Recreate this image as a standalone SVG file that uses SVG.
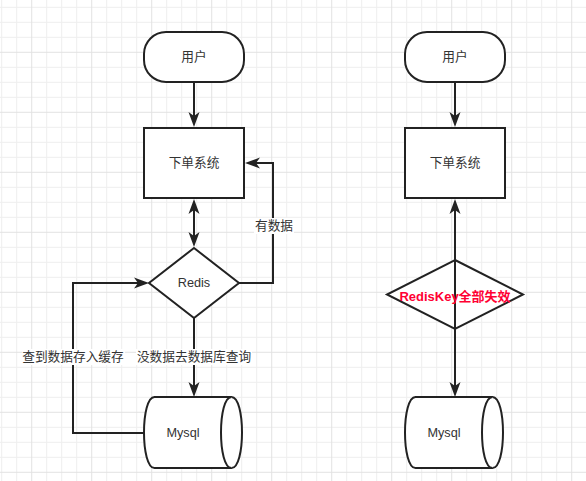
<svg xmlns="http://www.w3.org/2000/svg" width="586" height="481" viewBox="0 0 586 481">
<style>
.shape{fill:#ffffff;stroke:#222222;stroke-width:2}
.lbl{font-family:"Liberation Sans","Noto Sans CJK SC",sans-serif;font-size:12.7px;fill:#333333;text-anchor:middle;dominant-baseline:central}
.red{font-family:"Liberation Sans","Noto Sans CJK SC",sans-serif;font-size:13px;font-weight:bold;fill:#ff0033;text-anchor:middle;dominant-baseline:central}
.edge{fill:none;stroke:#222222;stroke-width:2}
.bg{fill:#ffffff}
</style>
<defs>
<pattern id="grid" patternUnits="userSpaceOnUse" x="31.2" y="51.8" width="60" height="60">
<rect x="15" y="0" width="1" height="60" fill="#eeeeee"/>
<rect x="30" y="0" width="1" height="60" fill="#eeeeee"/>
<rect x="45" y="0" width="1" height="60" fill="#eeeeee"/>
<rect x="0" y="15" width="60" height="1" fill="#eeeeee"/>
<rect x="0" y="30" width="60" height="1" fill="#eeeeee"/>
<rect x="0" y="45" width="60" height="1" fill="#eeeeee"/>
<rect x="0" y="0" width="1" height="60" fill="#e2e2e2"/>
<rect x="0" y="0" width="60" height="1" fill="#e2e2e2"/>
</pattern>
<marker id="arr" markerUnits="userSpaceOnUse" markerWidth="15" markerHeight="12" viewBox="0 0 15 12" refX="4" refY="6" orient="auto-start-reverse">
<path d="M0,0.5 L15,6 L0,11.5 L4,6 Z" fill="#222222"/>
</marker>
</defs>
<rect x="0" y="0" width="586" height="481" fill="#ffffff"/>
<rect x="0" y="0" width="586" height="481" fill="url(#grid)"/>

<g id="user-left">
<rect class="shape" x="144" y="32" width="100" height="50" rx="22" ry="22"/>
<text class="lbl" x="194" y="57">用户</text>
</g>
<g id="order-left">
<rect class="shape" x="144" y="128" width="100" height="70"/>
<text class="lbl" x="194" y="163">下单系统</text>
</g>
<g id="redis-left">
<polygon class="shape" points="194,248 239,283 194,318 149,283"/>
<text class="lbl" x="194" y="283">Redis</text>
</g>
<g id="mysql-left">
<path class="shape" d="M154.5,397 L231.5,397 C245.5,397 245.5,468 231.5,468 L154.5,468 C140.5,468 140.5,397 154.5,397 Z"/>
<path class="shape" fill="none" d="M231.5,397 C217.5,397 217.5,468 231.5,468"/>
<text class="lbl" x="183" y="433">Mysql</text>
</g>

<g id="user-right">
<rect class="shape" x="405" y="32" width="100" height="50" rx="22" ry="22"/>
<text class="lbl" x="455" y="57">用户</text>
</g>
<g id="order-right">
<rect class="shape" x="405" y="128" width="100" height="70"/>
<text class="lbl" x="455" y="163">下单系统</text>
</g>
<g id="redis-right">
<polygon class="shape" points="455,260 523,294.5 455,329 387,294.5"/>
</g>
<g id="mysql-right">
<path class="shape" d="M415.5,397 L492.5,397 C506.5,397 506.5,468 492.5,468 L415.5,468 C401.5,468 401.5,397 415.5,397 Z"/>
<path class="shape" fill="none" d="M492.5,397 C478.5,397 478.5,468 492.5,468"/>
<text class="lbl" x="444" y="433">Mysql</text>
</g>

<g id="connectors">
<path class="edge" d="M194,82 L194,116" marker-end="url(#arr)"/>
<path class="edge" d="M194,210 L194,236" marker-start="url(#arr)" marker-end="url(#arr)"/>
<path class="edge" d="M239,283 L273,283 L273,163 L256,163" marker-end="url(#arr)"/>
<rect class="bg" x="254" y="218" width="40" height="16"/>
<text class="lbl" x="274" y="226">有数据</text>
<path class="edge" d="M194,318 L194,386" marker-end="url(#arr)"/>
<rect class="bg" x="136" y="349" width="116" height="16"/>
<text class="lbl" x="194" y="357">没数据去数据库查询</text>
<path class="edge" d="M144,433 L73,433 L73,283 L138,283" marker-end="url(#arr)"/>
<rect class="bg" x="22" y="349" width="103" height="16"/>
<text class="lbl" x="73" y="357">查到数据存入缓存</text>
<path class="edge" d="M455,82 L455,116" marker-end="url(#arr)"/>
<path class="edge" d="M455,210 L455,386" marker-start="url(#arr)" marker-end="url(#arr)"/>
</g>
<g id="redis-right-label">
<text class="red" x="455" y="296">RedisKey全部失效</text>
</g>
</svg>
